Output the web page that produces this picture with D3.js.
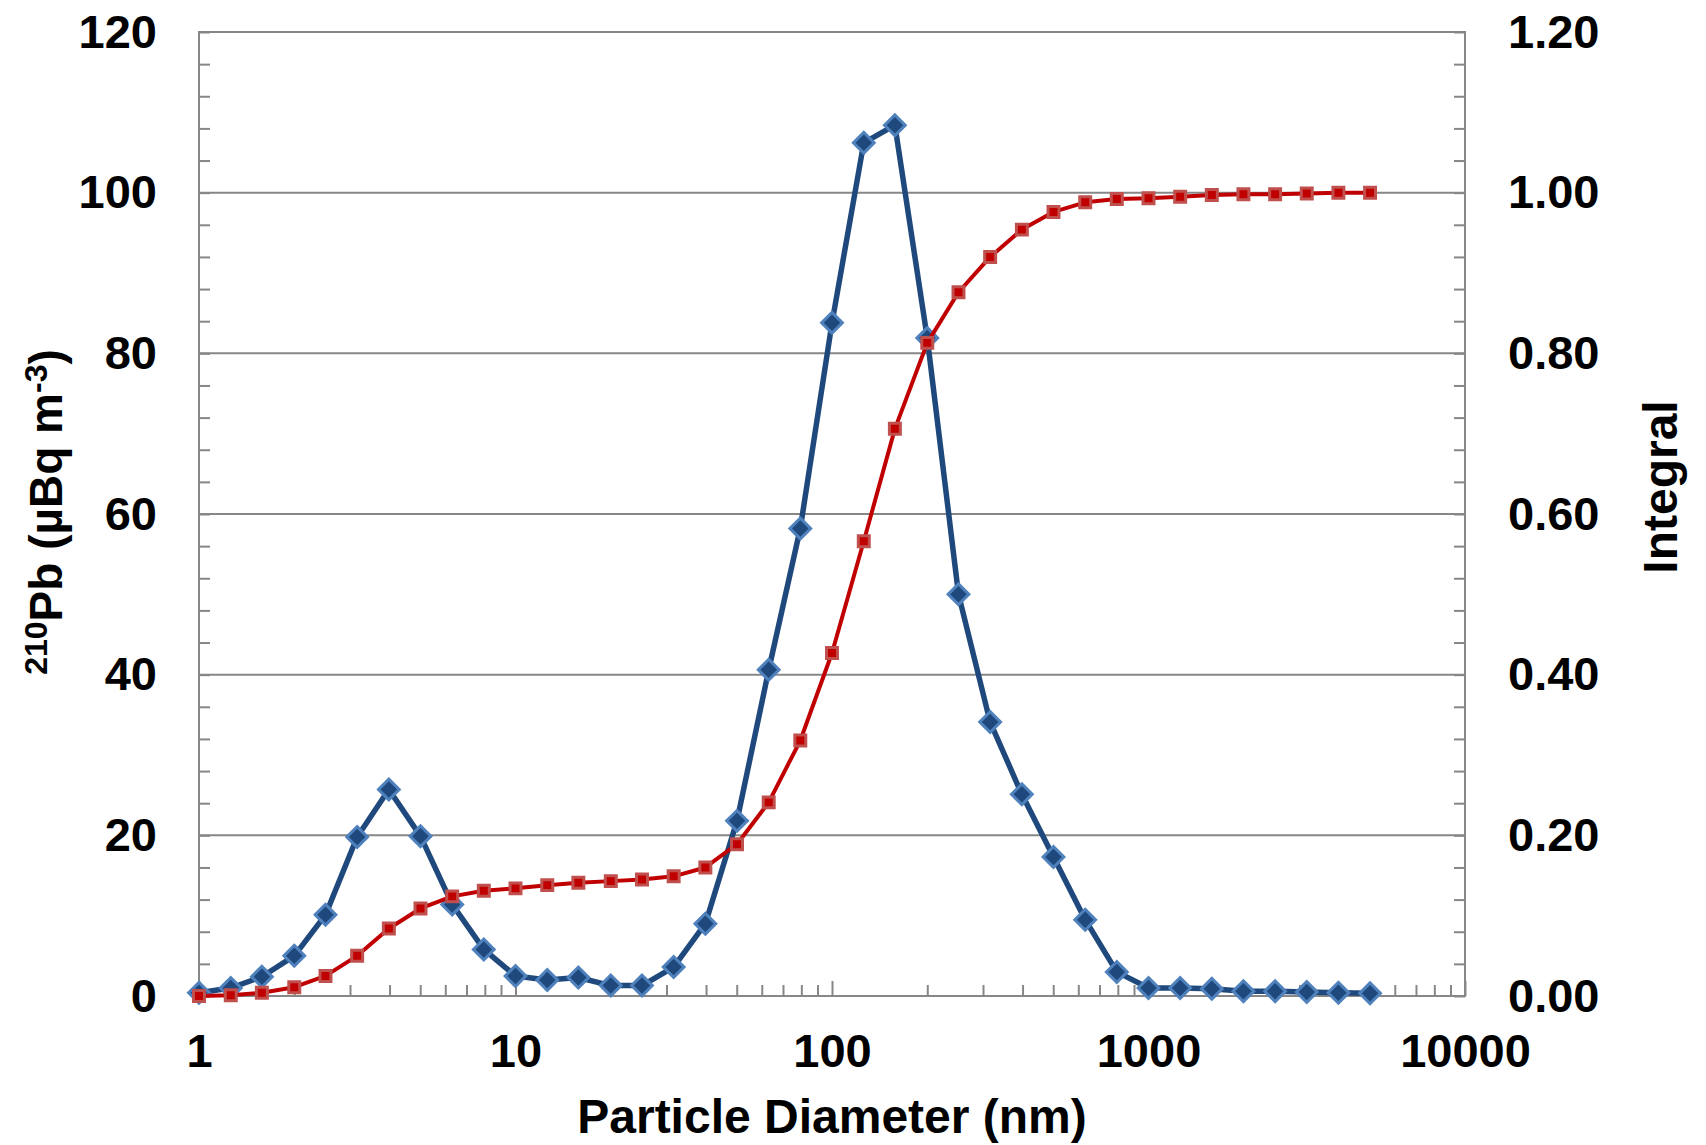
<!DOCTYPE html>
<html>
<head>
<meta charset="utf-8">
<script src="https://cdn.jsdelivr.net/npm/d3@7"></script>
<style>
  body { margin: 0; background: #fff; }
  svg text { font-family: "Liberation Sans", Arial, sans-serif; font-weight: bold; fill: #000; }
</style>
</head>
<body>
<svg id="chart"></svg>
<script>
// Particle diameters (nm), 10 bins per decade
var diameters = [1, 1.26, 1.58, 2, 2.51, 3.16, 3.98, 5.01, 6.31, 7.94,
    10, 12.6, 15.8, 20, 25.1, 31.6, 39.8, 50.1, 63.1, 79.4,
    100, 126, 158, 200, 251, 316, 398, 501, 631, 794,
    1000, 1259, 1585, 1995, 2512, 3162, 3981, 5012];

// 210Pb activity (µBq m-3), left axis
var activity = [0.4, 1.0, 2.4, 5.0, 10.1, 19.8, 25.7, 19.9, 11.4, 5.8,
    2.5, 2.0, 2.3, 1.3, 1.3, 3.6, 9.0, 21.8, 40.6, 58.2,
    83.8, 106.2, 108.4, 81.9, 50.0, 34.1, 25.1, 17.3, 9.5, 3.0,
    1.0, 1.0, 0.9, 0.6, 0.6, 0.5, 0.4, 0.35];

// Cumulative integral, right axis
var integral = [0.000, 0.001, 0.004, 0.011, 0.025, 0.050, 0.084, 0.109, 0.124, 0.131,
    0.134, 0.138, 0.141, 0.143, 0.145, 0.149, 0.160, 0.189, 0.241, 0.318,
    0.427, 0.566, 0.706, 0.813, 0.876, 0.920, 0.954, 0.976, 0.988, 0.992,
    0.993, 0.995, 0.997, 0.998, 0.998, 0.999, 1.000, 1.000];

var xTicks = [1, 10, 100, 1000, 10000];
var leftTicks = [0, 20, 40, 60, 80, 100, 120];
var rightTicks = [0, 0.2, 0.4, 0.6, 0.8, 1.0, 1.2];

var W = 1706, H = 1145;
var margin = {top: 32, left: 199, right: 241, bottom: 149};
var width = W - margin.left - margin.right;
var height = H - margin.top - margin.bottom;
var gridColor = "#878787";

var svg = d3.select("#chart").attr("width", W).attr("height", H);
var g = svg.append("g").attr("transform", `translate(${margin.left},${margin.top})`);

var x = d3.scaleLog().domain([1, 10000]).range([0, width]);
var yL = d3.scaleLinear().domain([0, 120]).range([height, 0]);
var yR = d3.scaleLinear().domain([0, 1.2]).range([height, 0]);

// horizontal gridlines
g.selectAll(".grid")
    .data(leftTicks.slice(1, -1)).enter()
    .append("line")
    .attr("x1", 0).attr("x2", width)
    .attr("y1", d => yL(d)).attr("y2", d => yL(d))
    .attr("stroke", gridColor).attr("stroke-width", 2);

// minor ticks on y axes (every 4 units)
var minorY = d3.range(0, 121, 4);
g.append("g")
    .call(d3.axisLeft(yL).tickValues(minorY).tickSize(-11).tickFormat(""))
    .call(a => a.select(".domain").remove());
g.append("g").attr("transform", `translate(${width},0)`)
    .call(d3.axisRight(yR).tickValues(minorY.map(d => d / 100)).tickSize(-11).tickFormat(""))
    .call(a => a.select(".domain").remove());

// x minor and major ticks
var minorX = [];
[1, 10, 100, 1000].forEach(function(p) {
    d3.range(2, 10).forEach(function(m) { minorX.push(p * m); });
});
g.append("g").attr("transform", `translate(0,${height})`)
    .call(d3.axisBottom(x).tickValues(minorX).tickSize(-11).tickFormat(""))
    .call(a => a.select(".domain").remove());
g.append("g").attr("transform", `translate(0,${height})`)
    .call(d3.axisBottom(x).tickValues(xTicks).tickSize(-15).tickPadding(38).tickFormat(d3.format("d")))
    .call(a => a.select(".domain").remove())
    .call(a => a.selectAll("text").style("font-size", "47px"));

g.selectAll(".tick line").attr("stroke", gridColor).attr("stroke-width", 2);

// tick labels on y axes
g.append("g")
    .call(d3.axisLeft(yL).tickValues(leftTicks).tickSize(0).tickPadding(42).tickFormat(d3.format("d")))
    .call(a => a.select(".domain").remove())
    .call(a => a.selectAll("text").style("font-size", "47px"));
g.append("g").attr("transform", `translate(${width},0)`)
    .call(d3.axisRight(yR).tickValues(rightTicks).tickSize(0).tickPadding(43).tickFormat(d3.format(".2f")))
    .call(a => a.select(".domain").remove())
    .call(a => a.selectAll("text").style("font-size", "47px"));

// frame
g.append("rect")
    .attr("width", width).attr("height", height)
    .attr("fill", "none").attr("stroke", gridColor).attr("stroke-width", 2);

// activity series
var lineL = d3.line().x((d, i) => x(diameters[i])).y(d => yL(d));
g.append("path").datum(activity)
    .attr("d", lineL)
    .attr("fill", "none").attr("stroke", "#1F497D").attr("stroke-width", 5.5)
    .attr("stroke-linejoin", "round");
g.selectAll(".diamond")
    .data(activity).enter()
    .append("path")
    .attr("d", d3.symbol(d3.symbolSquare, 215))
    .attr("transform", (d, i) => `translate(${x(diameters[i])},${yL(d)}) rotate(45)`)
    .attr("fill", "#1F497D").attr("stroke", "#4F81BD").attr("stroke-width", 3);

// integral series
var lineR = d3.line().x((d, i) => x(diameters[i])).y(d => yR(d));
g.append("path").datum(integral)
    .attr("d", lineR)
    .attr("fill", "none").attr("stroke", "#C00000").attr("stroke-width", 4)
    .attr("stroke-linejoin", "round");
g.selectAll(".square")
    .data(integral).enter()
    .append("path")
    .attr("d", d3.symbol(d3.symbolSquare, 120))
    .attr("transform", (d, i) => `translate(${x(diameters[i])},${yR(d)})`)
    .attr("fill", "#C00000").attr("stroke", "#C0504D").attr("stroke-width", 3);

// axis titles
svg.append("text")
    .attr("x", margin.left + width / 2).attr("y", 1133)
    .attr("text-anchor", "middle")
    .style("font-size", "48px")
    .text("Particle Diameter (nm)");

var yTitle = svg.append("text")
    .attr("transform", "translate(62,512) rotate(-90)")
    .attr("text-anchor", "middle")
    .style("font-size", "46px");
yTitle.append("tspan").attr("dy", -15).style("font-size", "32px").text("210");
yTitle.append("tspan").attr("dy", 15).text("Pb (\u00b5Bq m");
yTitle.append("tspan").attr("dy", -15).style("font-size", "32px").text("-3");
yTitle.append("tspan").attr("dy", 15).text(")");

svg.append("text")
    .attr("transform", "translate(1677,487) rotate(-90)")
    .attr("text-anchor", "middle")
    .style("font-size", "48px")
    .text("Integral");
</script>
</body>
</html>
